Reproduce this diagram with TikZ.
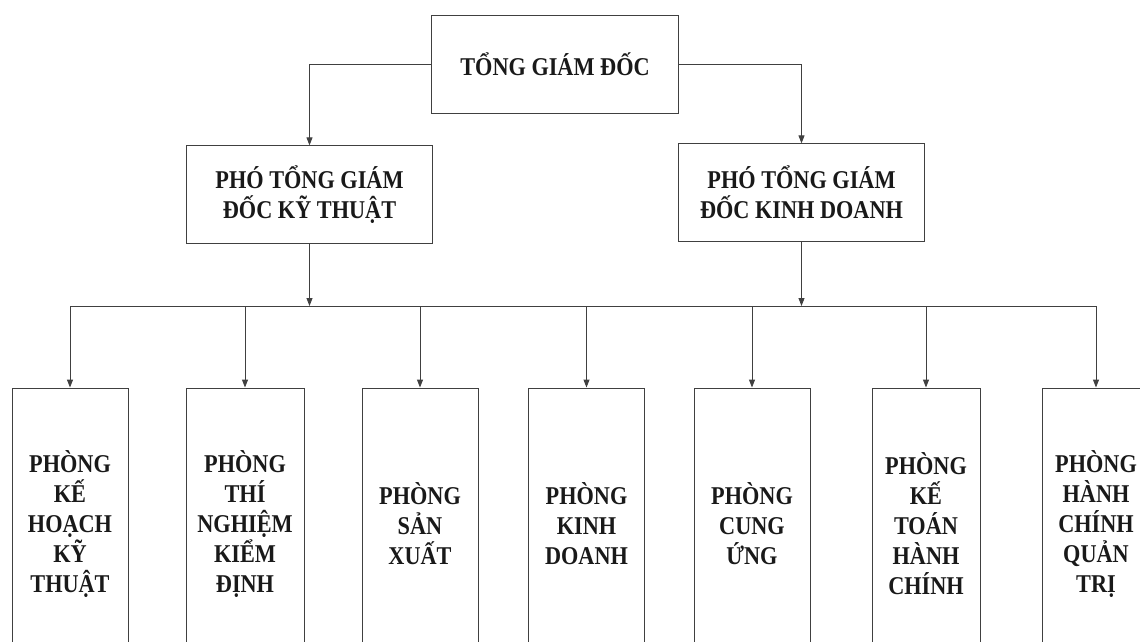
\documentclass[tikz,border=0pt]{standalone}
\usepackage{fontspec}
\setmainfont[FakeStretch=0.87]{Liberation Serif}
\usetikzlibrary{arrows.meta,positioning}

\begin{document}
\begin{tikzpicture}[x=0.75pt, y=-0.75pt, every node/.style={font=\fontsize{19.2}{22.5}\selectfont\bfseries, text=black!90}, wire/.style={draw=black!75, line width=0.7pt}, arr/.style={wire, -{Triangle[length=6pt,width=4.5pt]}}, head/.style={wire, minimum width=185pt, minimum height=73pt, align=center}, room/.style={wire, minimum width=87pt, minimum height=204pt, align=center, inner sep=0pt}]
\clip (0,0) rectangle (1140,642);
\node[head] (tgd) at (555,64.5) {TỔNG GIÁM ĐỐC};
\node[head] (ptkt) at (309.5,194.5) {PHÓ TỔNG GIÁM\\ĐỐC KỸ THUẬT};
\node[head] (ptkd) at (801.5,192.5) {PHÓ TỔNG GIÁM\\ĐỐC KINH DOANH};
\node[room] (p1) at (70,524) {PHÒNG\\KẾ\\HOẠCH\\KỸ\\THUẬT};
\node[room, minimum width=88.5pt] (p2) at (245,524) {PHÒNG\\THÍ\\NGHIỆM\\KIỂM\\ĐỊNH};
\node[room] (p3) at (420,524) {PHÒNG\\SẢN\\XUẤT};
\node[room] (p4) at (586.5,524) {PHÒNG\\KINH\\DOANH};
\node[room] (p5) at (752,524) {PHÒNG\\CUNG\\ỨNG};
\node[room, minimum width=81pt] (p6) at (926,524) {PHÒNG\\KẾ\\TOÁN\\HÀNH\\CHÍNH};
\node[room, minimum width=81pt] (p7) at (1096,524) {PHÒNG\\HÀNH\\CHÍNH\\QUẢN\\TRỊ};
\coordinate (bus) at (0,306);
\draw[arr] (tgd.west) -| (ptkt.north);
\draw[arr] (tgd.east) -| (ptkd.north);
\draw[arr] (ptkt.south) -- (ptkt.south |- bus);
\draw[arr] (ptkd.south) -- (ptkd.south |- bus);
\draw[wire] (p1.north |- bus) -- (p7.north |- bus);
\foreach \i in {1,...,7} \draw[arr] (p\i.north |- bus) -- (p\i.north);
\end{tikzpicture}
\end{document}
